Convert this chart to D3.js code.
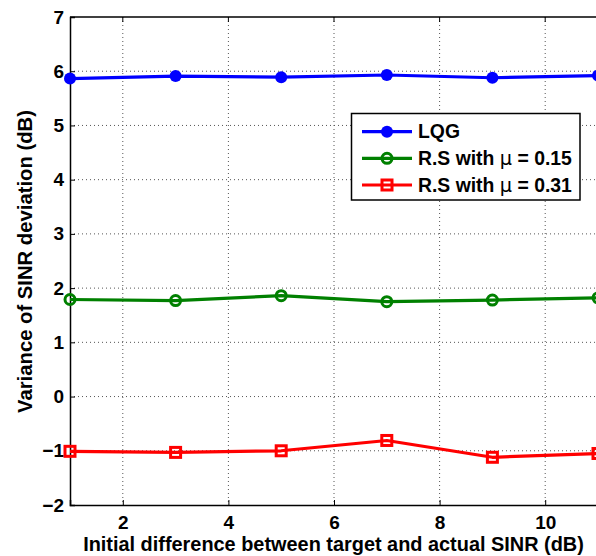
<!DOCTYPE html>
<html><head><meta charset="utf-8">
<script src="https://cdn.jsdelivr.net/npm/d3@7/dist/d3.min.js"></script>
<style>body{margin:0;background:#fff;} text{font-family:"Liberation Sans",Arial,sans-serif;font-weight:bold;}</style>
</head><body>
<svg id="c" width="596" height="556"></svg>
<script>
const xValues = [1, 3, 5, 7, 9, 11];
const lqg = [5.865, 5.91, 5.89, 5.93, 5.88, 5.92];
const rs015 = [1.79, 1.77, 1.86, 1.75, 1.78, 1.82];
const rs031 = [-1.01, -1.03, -1.0, -0.81, -1.12, -1.05];
const xTicks = [2, 4, 6, 8, 10];
const yTicks = [-2, -1, 0, 1, 2, 3, 4, 5, 6, 7];
const seriesNames = ["LQG", "R.S with \u03bc = 0.15", "R.S with \u03bc = 0.31"];
const seriesColors = ["#0000ff", "#008000", "#ff0000"];

const svg = d3.select("#c");
const L = 70, R = 598, T = 17, B = 505;
const x = d3.scaleLinear().domain([1, 11]).range([L, R]);
const y = d3.scaleLinear().domain([-2, 7]).range([B, T]);

function fit(t, target) {
  const w = t.node().getComputedTextLength();
  const fs = parseFloat(t.attr("font-size"));
  t.attr("font-size", (fs * target / w).toFixed(2));
}

// grid
const g = svg.append("g");
g.selectAll(".gx").data(xTicks).enter().append("line")
  .attr("x1", d => x(d)).attr("x2", d => x(d)).attr("y1", T).attr("y2", B)
  .attr("stroke", "#555").attr("stroke-width", 1).attr("stroke-dasharray", "1,3");
g.selectAll(".gy").data(yTicks.filter(d => d > -2 && d < 7)).enter().append("line")
  .attr("y1", d => y(d)).attr("y2", d => y(d)).attr("x1", L).attr("x2", R)
  .attr("stroke", "#555").attr("stroke-width", 1).attr("stroke-dasharray", "1,3");

// axes
const fmt = d => d < 0 ? "\u2212" + Math.abs(d) : String(d);
const xAxis = d3.axisBottom(x).tickValues(xTicks).tickSize(-5).tickPadding(11).tickFormat(fmt);
const yAxis = d3.axisLeft(y).tickValues(yTicks).tickSize(-5).tickPadding(6).tickFormat(fmt);
const xg = svg.append("g").attr("transform", `translate(0,${B})`).call(xAxis);
const yg = svg.append("g").attr("transform", `translate(${L},0)`).call(yAxis);
[xg, yg].forEach(a => {
  a.select(".domain").attr("stroke", "#000").attr("stroke-width", 1.5);
  a.selectAll(".tick line").attr("stroke", "#000");
  a.selectAll("text").attr("font-size", 19).attr("font-weight", "bold")
    .attr("font-family", '"Liberation Sans",Arial,sans-serif').attr("fill", "#000");
});
// top ticks & border
svg.append("line").attr("x1", L).attr("x2", R).attr("y1", T).attr("y2", T).attr("stroke", "#000").attr("stroke-width", 1.5);
svg.selectAll(".tt").data(xTicks).enter().append("line")
  .attr("x1", d => x(d)).attr("x2", d => x(d)).attr("y1", T).attr("y2", T + 5).attr("stroke", "#000");

// series
const data = [lqg, rs015, rs031];
const line = d3.line().x((d, i) => x(xValues[i])).y(d => y(d));
data.forEach((s, k) => {
  svg.append("path").datum(s).attr("d", line).attr("fill", "none")
    .attr("stroke", seriesColors[k]).attr("stroke-width", 3.2).attr("stroke-linejoin", "round");
});
function marker(sel, k, cx, cy) {
  if (k === 0) {
    sel.append("circle").attr("cx", cx).attr("cy", cy).attr("r", 6).attr("fill", seriesColors[k]);
  } else if (k === 1) {
    sel.append("circle").attr("cx", cx).attr("cy", cy).attr("r", 5).attr("fill", "none")
      .attr("stroke", seriesColors[k]).attr("stroke-width", 3);
  } else {
    sel.append("rect").attr("x", cx - 5).attr("y", cy - 5).attr("width", 10).attr("height", 10)
      .attr("fill", "none").attr("stroke", seriesColors[k]).attr("stroke-width", 3);
  }
}
data.forEach((s, k) => {
  const mg = svg.append("g");
  s.forEach((v, i) => marker(mg, k, x(xValues[i]), y(v)));
});

// labels
const xl = svg.append("text").attr("x", 333.5).attr("y", 550.5).attr("text-anchor", "middle")
  .attr("font-size", 19).text("Initial difference between target and actual SINR (dB)");
fit(xl, 501);
const yl = svg.append("text").attr("transform", `translate(31.5,261.5) rotate(-90)`).attr("text-anchor", "middle")
  .attr("font-size", 19).text("Variance of SINR deviation (dB)");
fit(yl, 303);

// legend
const lg = svg.append("g");
lg.append("rect").attr("x", 351.5).attr("y", 113.5).attr("width", 228.5).attr("height", 86.5)
  .attr("fill", "#fff").attr("stroke", "#000").attr("stroke-width", 1.5);
const ly = [131.7, 158.3, 185];
const texts = [];
seriesNames.forEach((n, k) => {
  lg.append("line").attr("x1", 362).attr("x2", 412).attr("y1", ly[k]).attr("y2", ly[k])
    .attr("stroke", seriesColors[k]).attr("stroke-width", 3.2);
  marker(lg, k, 387, ly[k]);
  const t = lg.append("text").attr("x", 418).attr("y", ly[k] + 6.5).attr("font-size", 18);
  if (k === 0) t.text(n);
  else {
    const parts = n.split("\u03bc");
    t.append("tspan").text(parts[0]);
    t.append("tspan").attr("font-weight", "normal").attr("font-family", '"DejaVu Sans",sans-serif').text("\u03bc");
    t.append("tspan").text(parts[1]);
  }
  texts.push(t);
});
// scale legend font so longest entry ends near the reference position
const w2 = texts[2].node().getComputedTextLength();
const lfs = (18 * 154 / w2).toFixed(2);
texts.forEach(t => t.attr("font-size", lfs));
</script>
</body></html>
